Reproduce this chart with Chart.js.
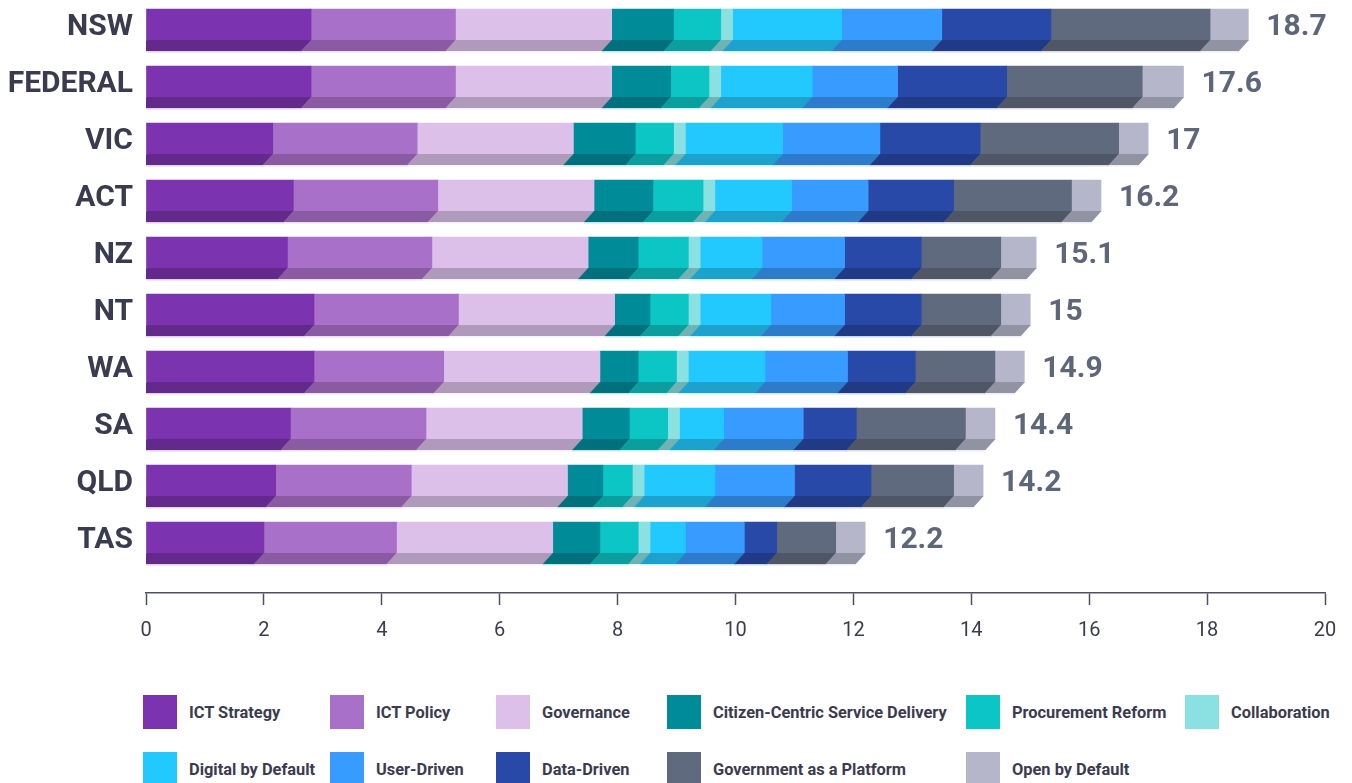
<!DOCTYPE html>
<html>
<head>
<meta charset="utf-8">
<title>Digital government maturity by jurisdiction</title>
<script src="https://cdn.jsdelivr.net/npm/chart.js@4.4.1/dist/chart.umd.min.js"></script>
<style>
  html, body { margin: 0; padding: 0; background: #ffffff; }
  #wrap { position: relative; width: 1352px; height: 783px; overflow: hidden; }
  #chart { position: absolute; left: 0; top: 0; }
  #legend {
    position: absolute; left: 143px; top: 695px;
    display: grid;
    grid-template-columns: 187px 166px 171px 299px 219px auto;
    row-gap: 23px;
  }
  .item { display: flex; align-items: center; height: 34px; }
  .swatch { width: 34px; height: 34px; margin-right: 12px; flex: none; }
  .label { font: bold 16.4px Roboto, 'Noto Sans', sans-serif; color: #3b3b4f; white-space: nowrap; }
</style>
</head>
<body>
<div id="wrap">
  <canvas id="chart" width="1352" height="660"></canvas>
  <div id="legend"></div>
</div>
<script>
// Jurisdictions, top to bottom
const categories = ['NSW', 'FEDERAL', 'VIC', 'ACT', 'NZ', 'NT', 'WA', 'SA', 'QLD', 'TAS'];

// Score for each assessment area, per jurisdiction (same order as categories)
const ictStrategy      = [2.8, 2.8, 2.15, 2.5, 2.4, 2.85, 2.85, 2.45, 2.2, 2.0];
const ictPolicy        = [2.45, 2.45, 2.45, 2.45, 2.45, 2.45, 2.2, 2.3, 2.3, 2.25];
const governance       = [2.65, 2.65, 2.65, 2.65, 2.65, 2.65, 2.65, 2.65, 2.65, 2.65];
const citizenCentric   = [1.05, 1.0, 1.05, 1.0, 0.85, 0.6, 0.65, 0.8, 0.6, 0.8];
const procurement      = [0.8, 0.65, 0.65, 0.85, 0.85, 0.65, 0.65, 0.65, 0.5, 0.65];
const collaboration    = [0.2, 0.2, 0.2, 0.2, 0.2, 0.2, 0.2, 0.2, 0.2, 0.2];
const digitalByDefault = [1.85, 1.55, 1.65, 1.3, 1.05, 1.2, 1.3, 0.75, 1.2, 0.6];
const userDriven       = [1.7, 1.45, 1.65, 1.3, 1.4, 1.25, 1.4, 1.35, 1.35, 1.0];
const dataDriven       = [1.85, 1.85, 1.7, 1.45, 1.3, 1.3, 1.15, 0.9, 1.3, 0.55];
const govAsPlatform    = [2.7, 2.3, 2.35, 2.0, 1.35, 1.35, 1.35, 1.85, 1.4, 1.0];
const openByDefault    = [0.65, 0.7, 0.5, 0.5, 0.6, 0.5, 0.5, 0.5, 0.5, 0.5];

const seriesNames = [
  'ICT Strategy', 'ICT Policy', 'Governance', 'Citizen-Centric Service Delivery',
  'Procurement Reform', 'Collaboration', 'Digital by Default', 'User-Driven',
  'Data-Driven', 'Government as a Platform', 'Open by Default'
];
const seriesValues = [
  ictStrategy, ictPolicy, governance, citizenCentric, procurement, collaboration,
  digitalByDefault, userDriven, dataDriven, govAsPlatform, openByDefault
];

// x axis ticks
const xTicks = [0, 2, 4, 6, 8, 10, 12, 14, 16, 18, 20];

// Face colours and the darker colours of the extruded underside
const faceColors = ['#7B33AF', '#A970C9', '#DCC0EA', '#008B99', '#0CC6C6', '#8BE0E2',
                    '#22C9FF', '#389BFF', '#2849A8', '#606A7E', '#B5B6CA'];
const sideColors = ['#63298B', '#8A5AA3', '#AF9ABC', '#00717C', '#0A9E9E', '#70B3B5',
                    '#1CA2CC', '#2D7CCC', '#203A86', '#4F5666', '#9192A2'];

const totals = categories.map((_, i) =>
  Math.round(seriesValues.reduce((s, arr) => s + arr[i], 0) * 10) / 10);

const DEPTH = 11;   // height of the underside strip
const SLANT = 10;   // horizontal lean of the underside

const datasets = seriesNames.map((name, k) => ({
  label: name,
  data: seriesValues[k].map((v, i) => ({ x: v, y: i })),
  backgroundColor: faceColors[k],
  sideColor: sideColors[k],
  borderWidth: 0,
  barThickness: 31
}));

// Draws the slanted darker underside under each bar segment
const extrusion = {
  id: 'extrusion',
  afterDatasetsDraw(chart) {
    const ctx = chart.ctx;
    const xs = chart.scales.x;
    const left = xs.getPixelForValue(0);
    ctx.save();
    ctx.beginPath();
    ctx.rect(left, 0, chart.width - left, chart.chartArea.bottom);
    ctx.clip();
    chart.data.datasets.forEach((ds, di) => {
      const meta = chart.getDatasetMeta(di);
      meta.data.forEach(bar => {
        const p = bar.getProps(['x', 'y', 'base', 'height'], true);
        const y0 = p.y + p.height / 2;
        const y1 = y0 + DEPTH;
        ctx.fillStyle = ds.sideColor;
        ctx.beginPath();
        ctx.moveTo(p.base, y0);
        ctx.lineTo(p.x + 0.6, y0);
        ctx.lineTo(p.x + 0.6 - SLANT, y1);
        ctx.lineTo(p.base - SLANT, y1);
        ctx.closePath();
        ctx.fill();
        ctx.globalAlpha = 0.22;
        ctx.fillStyle = ds.backgroundColor;
        ctx.fillRect(p.base - SLANT, y1, p.x - p.base + 0.6, 1.5);
        ctx.globalAlpha = 1;
      });
    });
    ctx.restore();
  }
};

// Total score to the right of each bar
const totalLabels = {
  id: 'totalLabels',
  afterDraw(chart) {
    const ctx = chart.ctx;
    const xs = chart.scales.x, ys = chart.scales.y;
    ctx.save();
    ctx.font = "bold 30px Roboto, 'Noto Sans', sans-serif";
    ctx.fillStyle = '#5E6679';
    ctx.textAlign = 'left';
    ctx.textBaseline = 'middle';
    totals.forEach((t, i) => {
      const txt = Number.isInteger(t) ? String(t) : t.toFixed(1);
      ctx.fillText(txt, xs.getPixelForValue(t) + 18, ys.getPixelForValue(i) + 3);
    });
    ctx.restore();
  }
};

new Chart(document.getElementById('chart'), {
  type: 'bar',
  data: { datasets },
  options: {
    indexAxis: 'y',
    responsive: false,
    animation: false,
    devicePixelRatio: 1,
    layout: { padding: { left: 0, right: 27, top: 0, bottom: 0 } },
    plugins: { legend: { display: false }, tooltip: { enabled: false } },
    scales: {
      x: {
        type: 'linear',
        stacked: true,
        min: 0,
        max: 20,
        afterBuildTicks: s => { s.ticks = xTicks.map(v => ({ value: v })); },
        afterFit: s => { s.height = 67; },
        grid: {
          drawOnChartArea: false,
          drawTicks: true,
          tickLength: 12,
          tickWidth: 1.5,
          color: '#4f5163'
        },
        border: { display: true, color: '#4f5163', width: 1.5 },
        ticks: {
          padding: 14,
          color: '#3b3d4f',
          font: { family: "Roboto, 'Noto Sans', sans-serif", size: 20 }
        }
      },
      y: {
        type: 'linear',
        stacked: true,
        reverse: true,
        offset: false,
        min: -0.43,
        max: 9.974,
        afterBuildTicks: s => { s.ticks = categories.map((_, i) => ({ value: i })); },
        afterFit: s => { s.width = 146; s.paddingTop = 0; s.paddingBottom = 0; },
        grid: { display: false, drawTicks: false, offset: false },
        border: { display: false },
        ticks: {
          autoSkip: false,
          padding: 13,
          labelOffset: 3,
          color: '#3b3b4f',
          font: { family: "Roboto, 'Noto Sans', sans-serif", size: 30, weight: 'bold' },
          callback: v => categories[v]
        }
      }
    }
  },
  plugins: [extrusion, totalLabels]
});

// Legend laid out as a grid under the chart
const legend = document.getElementById('legend');
seriesNames.forEach((name, k) => {
  const item = document.createElement('div');
  item.className = 'item';
  const sw = document.createElement('div');
  sw.className = 'swatch';
  sw.style.background = faceColors[k];
  const lb = document.createElement('span');
  lb.className = 'label';
  lb.textContent = name;
  item.appendChild(sw);
  item.appendChild(lb);
  legend.appendChild(item);
});
</script>
</body>
</html>
